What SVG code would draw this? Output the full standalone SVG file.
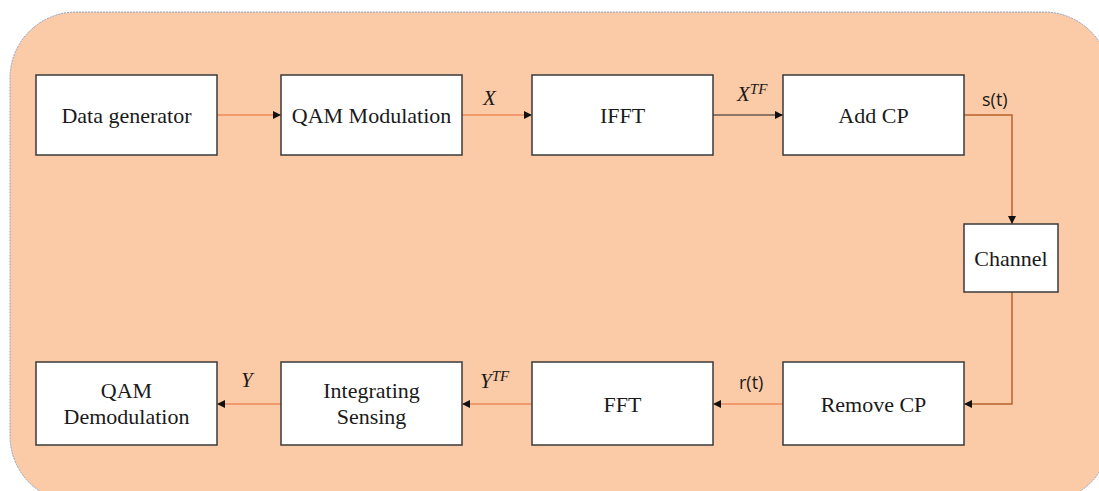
<svg xmlns="http://www.w3.org/2000/svg" width="1099" height="491" viewBox="0 0 1099 491">
<defs>
<style>
.bg{fill:#FBCAA6;stroke:#8DA3C8;stroke-width:1;stroke-dasharray:2 1}
.box{fill:#ffffff;stroke:#3a3a3a;stroke-width:1.5}
.t{font-family:"Liberation Serif","Times New Roman",serif;font-size:22px;fill:#1a1a1a;text-anchor:middle}
.m{font-family:"Liberation Serif","Times New Roman",serif;font-style:italic;font-size:21px;fill:#1a1a1a}
.s{font-family:"Open Sans","Liberation Sans",sans-serif;font-size:18px;fill:#1a1a1a}
.c{fill:none;stroke:#EC8A5A;stroke-width:1.5}
.cd{fill:none;stroke:#222;stroke-width:1.2}
.cb{fill:none;stroke:#B8612E;stroke-width:1.5}
</style>
<marker id="ah" viewBox="0 0 10 10" refX="10" refY="5" markerWidth="8" markerHeight="8" markerUnits="userSpaceOnUse" orient="auto">
<path d="M0,0 L10,5 L0,10 z" fill="#111"/>
</marker>
</defs>
<rect class="bg" x="10" y="12" width="1100" height="490" rx="66" ry="66"/>
<g id="connectors">
<line class="c" x1="217" y1="115" x2="281" y2="115" marker-end="url(#ah)"/>
<line class="c" x1="462" y1="115" x2="532" y2="115" marker-end="url(#ah)"/>
<line class="cd" x1="713" y1="115" x2="783" y2="115" marker-end="url(#ah)"/>
<polyline class="cb" points="964,115 1012,115 1012,224" marker-end="url(#ah)"/>
<polyline class="cb" points="1012,292 1012,404 964,404" marker-end="url(#ah)"/>
<line class="c" x1="783" y1="404" x2="713" y2="404" marker-end="url(#ah)"/>
<line class="c" x1="532" y1="404" x2="462" y2="404" marker-end="url(#ah)"/>
<line class="c" x1="281" y1="404" x2="217" y2="404" marker-end="url(#ah)"/>
<text class="m" x="483" y="105">X</text>
<text class="m" x="737" y="101">X<tspan font-size="15" dy="-7">TF</tspan></text>
<text class="s" x="982" y="106">s(t)</text>
<text class="m" x="241" y="387">Y</text>
<text class="m" x="480" y="388">Y<tspan font-size="15" dy="-7">TF</tspan></text>
<text class="s" x="739" y="389">r(t)</text>
</g>
<g id="data-generator"><rect class="box" x="36" y="75" width="181" height="80"/><text class="t" x="126.5" y="123">Data generator</text></g>
<g id="qam-modulation"><rect class="box" x="281" y="75" width="181" height="80"/><text class="t" x="371.5" y="123">QAM Modulation</text></g>
<g id="ifft"><rect class="box" x="532" y="75" width="181" height="80"/><text class="t" x="622.5" y="123">IFFT</text></g>
<g id="add-cp"><rect class="box" x="783" y="75" width="181" height="80"/><text class="t" x="873.5" y="123">Add CP</text></g>
<g id="channel"><rect class="box" x="964" y="224" width="94" height="68"/><text class="t" x="1011" y="266">Channel</text></g>
<g id="remove-cp"><rect class="box" x="783" y="362" width="181" height="83"/><text class="t" x="873.5" y="412">Remove CP</text></g>
<g id="fft"><rect class="box" x="532" y="362" width="181" height="83"/><text class="t" x="622.5" y="412">FFT</text></g>
<g id="integrating-sensing"><rect class="box" x="281" y="362" width="181" height="83"/><text class="t" x="371.5" y="398">Integrating</text><text class="t" x="371.5" y="424">Sensing</text></g>
<g id="qam-demodulation"><rect class="box" x="36" y="362" width="181" height="83"/><text class="t" x="126.5" y="398">QAM</text><text class="t" x="126.5" y="424">Demodulation</text></g>
</svg>
